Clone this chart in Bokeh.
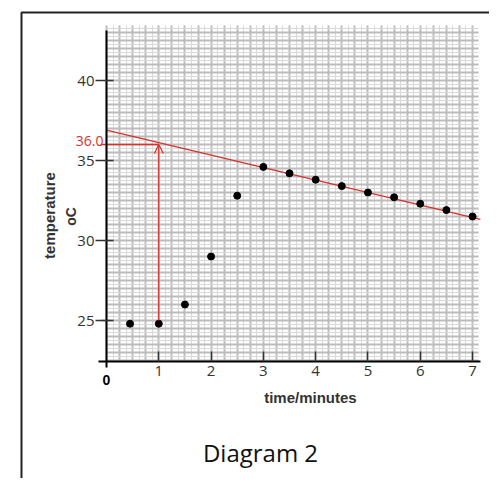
import math
from bokeh.plotting import figure
from bokeh.models import (Range1d, FixedTicker, SingleIntervalTicker, Label,
                          Arrow, OpenHead)
from bokeh.embed import file_html
from bokeh.resources import INLINE

# ---- data ----
time_min = [0.45, 1.0, 1.5, 2.0, 2.5, 3.0, 3.5, 4.0, 4.5, 5.0, 5.5, 6.0, 6.5, 7.0]
temp_c = [24.8, 24.8, 26.0, 29.0, 32.8, 34.6, 34.2, 33.8, 33.4, 33.0, 32.7, 32.3, 31.9, 31.5]

trend_time = [0.0, 7.15]
trend_temp = [36.9, 31.32]

read_time = 1.0
read_start_temp = 25.0
read_temp = 36.0
read_label = "36.0"

x_ticks = [1, 2, 3, 4, 5, 6, 7]
y_ticks = [25, 30, 35, 40]

RED = "#d9302c"
GREY_TXT = "#333333"

X_AXIS_AT = 22.4375   # temperature where the time axis sits
GRID_T = (0.0, 7.11)
GRID_Y = (X_AXIS_AT, 43.44)

p = figure(width=489, height=478,
           x_range=Range1d(-2.027, 7.3245), y_range=Range1d(15.125, 45.0),
           output_backend="svg", toolbar_location=None,
           min_border=0)
p.outline_line_color = None
p.background_fill_color = "white"
p.border_fill_color = "white"

# grid (graph paper), limited to the plotting area
xg = p.xgrid[0]
xg.ticker = SingleIntervalTicker(interval=0.25, num_minor_ticks=2)
xg.bounds = GRID_T
xg.cross_bounds = GRID_Y
yg = p.ygrid[0]
yg.ticker = SingleIntervalTicker(interval=0.5, num_minor_ticks=2)
yg.bounds = GRID_Y
yg.cross_bounds = GRID_T
for g in (xg, yg):
    g.grid_line_color = "#bcbcbc"
    g.grid_line_width = 2
    g.minor_grid_line_color = "#d9d9d9"
    g.minor_grid_line_width = 1

# axes
xa = p.xaxis[0]
xa.fixed_location = X_AXIS_AT
xa.bounds = (-0.153, 7.15)
xa.ticker = FixedTicker(ticks=x_ticks)
xa.major_tick_in = 10
xa.major_tick_out = 0
xa.minor_tick_line_color = None
xa.axis_line_width = 2
xa.axis_line_color = "black"
xa.major_tick_line_color = GREY_TXT
xa.major_tick_line_width = 1.5
xa.major_label_text_font = "Open Sans"
xa.major_label_text_font_size = "15px"
xa.major_label_text_color = GREY_TXT
xa.major_label_standoff = 4

ya = p.yaxis[0]
ya.fixed_location = 0
ya.bounds = (22.06, 43.125)
ya.ticker = FixedTicker(ticks=y_ticks)
ya.major_tick_in = 7
ya.major_tick_out = 11
ya.minor_tick_line_color = None
ya.axis_line_width = 2
ya.axis_line_color = "black"
ya.major_tick_line_color = GREY_TXT
ya.major_tick_line_width = 1.5
ya.major_label_text_font = "Open Sans"
ya.major_label_text_font_size = "15px"
ya.major_label_text_color = GREY_TXT
ya.major_label_standoff = 1

# trend line and readings
p.line(trend_time, trend_temp, line_color=RED, line_width=1.3)
p.line([-0.11, read_time], [read_temp, read_temp], line_color=RED, line_width=1.3)
p.add_layout(Arrow(end=OpenHead(line_color=RED, line_width=1.2, size=9),
                   x_start=read_time, y_start=read_start_temp,
                   x_end=read_time, y_end=read_temp,
                   line_color=RED, line_width=1.3))

# small purple mark at 25 on the temperature axis
p.line([-0.11, 0.06], [25.0, 25.0], line_color="#8a6cc8", line_width=1.5)

# data points
p.scatter(time_min, temp_c, size=7, color="black")

# texts
p.add_layout(Label(x=-0.057, y=36.23, text=read_label, text_align="right",
                   text_baseline="middle", text_font="Open Sans",
                   text_font_size="14px", text_color=RED))
p.add_layout(Label(x=0, y=21.31, text="0", text_align="center",
                   text_baseline="middle", text_font="Liberation Sans",
                   text_font_style="bold", text_font_size="14px",
                   text_color="black"))
p.add_layout(Label(x=3.9, y=20.16, text="time/minutes", text_align="center",
                   text_baseline="middle", text_font="Liberation Sans",
                   text_font_style="bold", text_font_size="15px",
                   text_color=GREY_TXT))
p.add_layout(Label(x=-1.09, y=31.56, text="temperature", angle=math.pi / 2,
                   text_align="center", text_baseline="middle",
                   text_font="Liberation Sans", text_font_style="bold",
                   text_font_size="15px", text_color=GREY_TXT))
p.add_layout(Label(x=-0.688, y=31.5, text="oC", angle=math.pi / 2,
                   text_align="center", text_baseline="middle",
                   text_font="Liberation Sans", text_font_style="bold",
                   text_font_size="14px", text_color=GREY_TXT))
p.add_layout(Label(x=2.945, y=16.725, text="Diagram 2", text_align="center",
                   text_baseline="middle", text_font="Open Sans",
                   text_font_size="24px", text_color="#111111"))

# outer box (left and top edges visible)
p.line([-1.6255, -1.6255, 7.4], [14.0, 44.25, 44.25],
       line_color="#222222", line_width=2)

open("out.html", "w").write(file_html(p, INLINE))
